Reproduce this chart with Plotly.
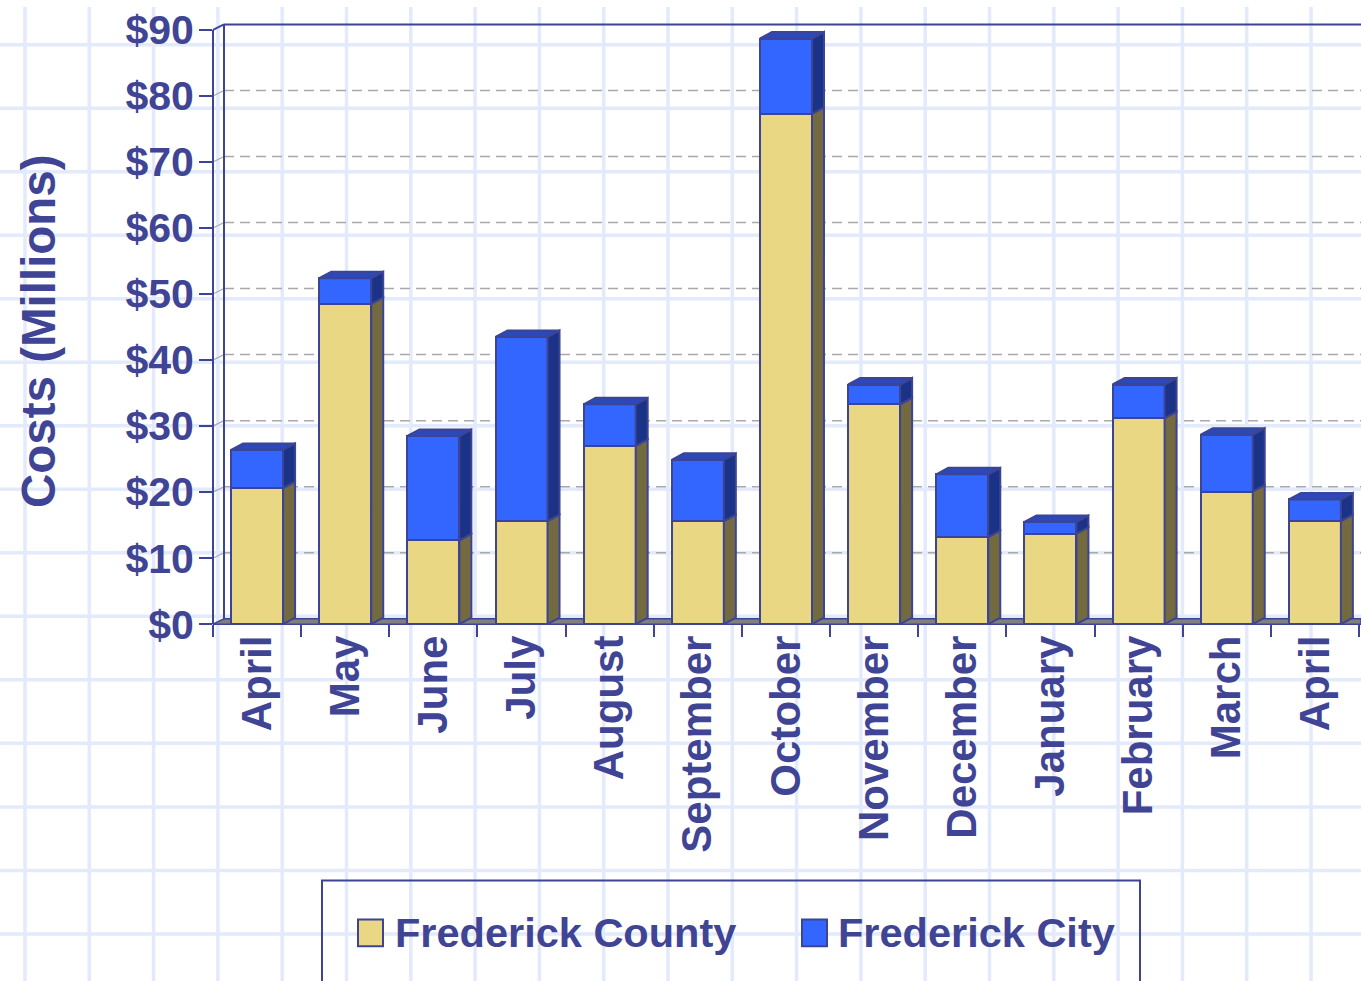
import plotly.graph_objects as go

# ---------------- data ----------------
months = ["April", "May", "June", "July", "August", "September", "October",
          "November", "December", "January", "February", "March", "April"]
county = [20.6, 48.5, 12.7, 15.6, 27.0, 15.6, 77.3, 33.3, 13.2, 13.7, 31.2, 20.1, 15.6]
city = [5.8, 3.9, 15.8, 27.9, 6.3, 9.3, 11.4, 3.0, 9.5, 1.8, 5.1, 8.6, 3.3]
series_names = ["Frederick County", "Frederick City"]
y_ticks = [0, 10, 20, 30, 40, 50, 60, 70, 80, 90]
y_tick_labels = ["$0", "$10", "$20", "$30", "$40", "$50", "$60", "$70", "$80", "$90"]
y_title = "Costs (Millions)"

# ---------------- style / geometry ----------------
W, H = 1361, 981           # target picture
H_LAYOUT = 1005            # requested height (the viewer shows it within 981 px)
X0, Y0 = 213, 621          # front origin (pixels)
PX_CAT = 88.15             # pixels per category
PX_UNIT = 6.644            # pixels per $1M
TOP_PX = 8
BAR_W = 0.59
WALL_DX, WALL_DY = 11, 5.5
BAR_DX, BAR_DY = 12, 6.5

TXT = "#3f4494"
EDGE = "#3d4496"
C_COUNTY = "#ead784"
C_COUNTY_SIDE = "#746a40"
C_CITY = "#3366ff"
C_CITY_SIDE = "#1a3386"
C_CITY_TOP = "#2b49b8"
FONT = "Liberation Sans, Arial, sans-serif"


def fx(px):
    return px / W


def fy(py):
    return 1 - py / H


pos = list(range(len(months)))
dxv = BAR_DX / PX_CAT
dyv = BAR_DY / PX_UNIT
half = BAR_W / 2

fig = go.Figure()

fig.add_trace(go.Bar(x=pos, y=county, width=BAR_W, name=series_names[0],
                     marker=dict(color=C_COUNTY, line=dict(color=EDGE, width=2)),
                     showlegend=False, hoverinfo="skip"))
fig.add_trace(go.Bar(x=pos, y=city, width=BAR_W, name=series_names[1],
                     marker=dict(color=C_CITY, line=dict(color=EDGE, width=2)),
                     showlegend=False, hoverinfo="skip"))


def side_faces(bottoms, tops):
    xs, ys = [], []
    for i, (b, t) in enumerate(zip(bottoms, tops)):
        xr = pos[i] + half
        xs += [xr, xr + dxv, xr + dxv, xr, xr, None]
        ys += [b, b + dyv, t + dyv, t, b, None]
    return xs, ys


totals = [a + b for a, b in zip(county, city)]
sx, sy = side_faces([0] * len(county), county)
fig.add_trace(go.Scatter(x=sx, y=sy, mode="lines", fill="toself", fillcolor=C_COUNTY_SIDE,
                         line=dict(color=EDGE, width=2), showlegend=False, hoverinfo="skip"))
sx, sy = side_faces(county, totals)
fig.add_trace(go.Scatter(x=sx, y=sy, mode="lines", fill="toself", fillcolor=C_CITY_SIDE,
                         line=dict(color=EDGE, width=2), showlegend=False, hoverinfo="skip"))
tx, ty = [], []
for i, t in enumerate(totals):
    xl, xr = pos[i] - half, pos[i] + half
    tx += [xl, xl + dxv, xr + dxv, xr, xl, None]
    ty += [t, t + dyv, t + dyv, t, t, None]
fig.add_trace(go.Scatter(x=tx, y=ty, mode="lines", fill="toself", fillcolor=C_CITY_TOP,
                         line=dict(color=EDGE, width=2), showlegend=False, hoverinfo="skip"))

shapes = []
# background graph-paper grid
gx = 25.0
while gx < W:
    shapes.append(dict(type="line", xref="paper", yref="paper", x0=fx(gx), x1=fx(gx), y0=0, y1=1,
                       line=dict(color="#e3eafc", width=3.5), layer="below"))
    gx += 64.3
gy = 38.0
while gy < H:
    shapes.append(dict(type="line", xref="paper", yref="paper", x0=0, x1=1, y0=fy(gy), y1=fy(gy),
                       line=dict(color="#e3eafc", width=3.5), layer="below"))
    gy += 63.9

# back-wall dashed gridlines and connectors
for v in y_ticks[1:-1]:
    yf = Y0 - v * PX_UNIT
    yb = yf - WALL_DY
    shapes.append(dict(type="line", xref="paper", yref="paper", x0=fx(X0 + WALL_DX), x1=1,
                       y0=fy(yb), y1=fy(yb), line=dict(color="#a9a9a9", width=1.5, dash="10px,6px"),
                       layer="below"))
    shapes.append(dict(type="line", xref="paper", yref="paper", x0=fx(X0), x1=fx(X0 + WALL_DX),
                       y0=fy(yf), y1=fy(yb), line=dict(color="#a9a9a9", width=1.2), layer="below"))

ytop_f = Y0 - y_ticks[-1] * PX_UNIT
ytop_b = ytop_f - WALL_DY
# floor
shapes.append(dict(type="path", xref="paper", yref="paper",
                   path=f"M {fx(X0)},{fy(Y0)} L {fx(X0 + WALL_DX)},{fy(Y0 - WALL_DY)} L 1,{fy(Y0 - WALL_DY)} L 1,{fy(Y0)} Z",
                   fillcolor="#808080", line=dict(color=EDGE, width=1.5), layer="below"))
# wall frame lines
frame = [
    (X0 + WALL_DX, Y0 - WALL_DY, X0 + WALL_DX, ytop_b),
    (X0 + WALL_DX, ytop_b, W, ytop_b),
    (X0, ytop_f, X0 + WALL_DX, ytop_b),
    (X0, ytop_f, X0, Y0),
]
for a, b, c, d in frame:
    shapes.append(dict(type="line", xref="paper", yref="paper", x0=fx(a), y0=fy(b), x1=fx(c), y1=fy(d),
                       line=dict(color=EDGE, width=2), layer="below"))

# custom legend (open-bottom box: its lower edge lies outside the picture)
LEG_TOP = 879
shapes.append(dict(type="path", xref="paper", yref="paper",
                   path=f"M {fx(322)},0 L {fx(322)},{fy(LEG_TOP)} L {fx(1140)},{fy(LEG_TOP)} L {fx(1140)},0",
                   line=dict(color=EDGE, width=2)))
legend_items = [(358, 395, C_COUNTY, series_names[0]), (802, 838, C_CITY, series_names[1])]
annotations = []
for sx0, tx0, col, name in legend_items:
    shapes.append(dict(type="rect", xref="paper", yref="paper", x0=fx(sx0), x1=fx(sx0 + 25),
                       y0=fy(918), y1=fy(945), fillcolor=col, line=dict(color=EDGE, width=2)))
    annotations.append(dict(text=name, xref="paper", yref="paper", x=fx(tx0 - 2), y=fy(931),
                            xanchor="left", yanchor="middle", showarrow=False,
                            font=dict(family=FONT, size=41.5, color=TXT, weight="bold")))

annotations.append(dict(text=y_title, xref="paper", yref="paper", x=fx(38), y=fy(326),
                        textangle=-90, xanchor="center", yanchor="middle", showarrow=False,
                        font=dict(family=FONT, size=47.5, color=TXT, weight="bold")))

fig.update_layout(
    width=W, height=H_LAYOUT, autosize=False, margin=dict(l=0, r=0, t=0, b=0, pad=0),
    paper_bgcolor="white", plot_bgcolor="rgba(0,0,0,0)",
    barmode="stack", bargap=0,
    shapes=shapes, annotations=annotations, showlegend=False,
    xaxis=dict(domain=[fx(X0), 1.0], range=[-0.5, -0.5 + (W - X0) / PX_CAT],
               tickmode="array", tickvals=pos, ticktext=months, tickangle=-90,
               ticks="", ticklabelstandoff=2,
               tickfont=dict(family=FONT, size=42, color=TXT, weight="bold"),
               showgrid=False, zeroline=False, showline=False,
               minor=dict(tickmode="array", tickvals=[p - 0.5 for p in pos] + [pos[-1] + 0.5],
                          ticks="outside", ticklen=12, tickwidth=2, tickcolor=EDGE, showgrid=False),
               fixedrange=True),
    yaxis=dict(domain=[fy(Y0), fy(TOP_PX)], range=[0, (Y0 - TOP_PX) / PX_UNIT],
               tickmode="array", tickvals=y_ticks, ticktext=y_tick_labels,
               ticks="outside", ticklen=13, tickwidth=2, tickcolor=EDGE, ticklabelstandoff=-3,
               tickfont=dict(family=FONT, size=41, color=TXT, weight="bold"),
               showgrid=False, zeroline=False, showline=False, fixedrange=True),
)

fig.write_html("out.html", config={"displayModeBar": False, "responsive": False},
               post_script="document.documentElement.style.margin='0';document.body.style.margin='0';document.documentElement.style.overflow='hidden';document.body.style.overflow='hidden';")
